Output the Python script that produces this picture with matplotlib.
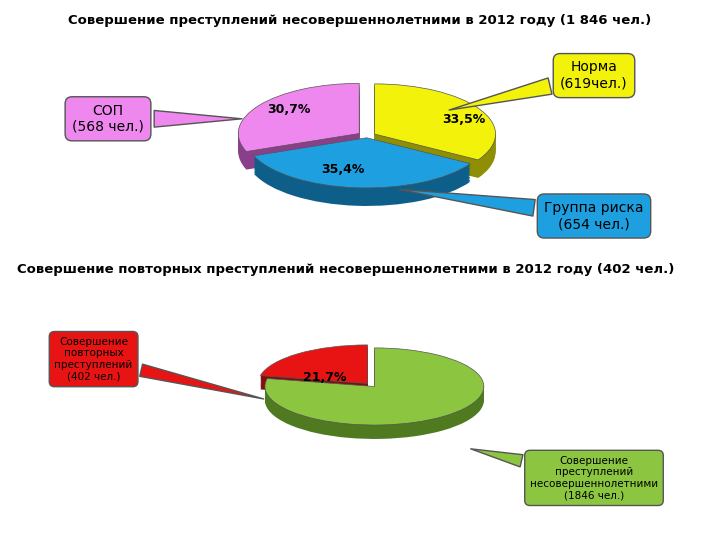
import matplotlib
matplotlib.use('Agg')
import matplotlib.pyplot as plt

top_labels = ['СОП', 'Группа риска', 'Норма']
top_counts = [568, 654, 619]
top_pct = ['30,7%', '35,4%', '33,5%']
top_colors = ['#ee88ee', '#1ea0e0', '#f2f20a']
top_dark = ['#8a3f8a', '#0d5f8a', '#8f8f05']

bot_pct = [21.7, 78.3]
bot_text = ['21,7%', '']
bot_colors = ['#e81414', '#8cc640']
bot_dark = ['#801010', '#4f7a20']

fig = plt.figure(figsize=(7.2, 5.4), dpi=100)
fig.patch.set_facecolor('white')


def pie3d(ax, vals, cols, dark, explode):
    for k in range(12, 0, -1):
        ax.pie(vals, colors=dark, startangle=90, explode=explode,
               center=(0, -0.03 * k), wedgeprops=dict(linewidth=0))
    ax.pie(vals, colors=cols, startangle=90, explode=explode,
           wedgeprops=dict(linewidth=0.5, edgecolor='#555555'))
    ax.set_aspect('auto')
    ax.set_xlim(-1.25, 1.25)
    ax.set_ylim(-1.6, 1.2)
    ax.axis('off')


# top pie
ax1 = fig.add_axes([0.3, 0.6, 0.42, 0.26])
pie3d(ax1, top_counts, top_colors, top_dark, [0.08, 0.04, 0.07])
ax1.text(-0.65, 0.45, top_pct[0], fontsize=9, weight='bold', ha='center')
ax1.text(-0.2, -0.75, top_pct[1], fontsize=9, weight='bold', ha='center')
ax1.text(0.8, 0.25, top_pct[2], fontsize=9, weight='bold', ha='center')

# bottom pie
ax2 = fig.add_axes([0.33, 0.17, 0.38, 0.2])
pie3d(ax2, bot_pct, bot_colors, bot_dark, [0.1, 0.0])
ax2.text(-0.45, 0.15, bot_text[0], fontsize=9, weight='bold', ha='center')

fig.text(0.5, 0.955, 'Совершение преступлений несовершеннолетними в 2012 году (1 846 чел.)',
         ha='center', fontsize=9.5, weight='bold')
fig.text(0.48, 0.495, 'Совершение повторных преступлений несовершеннолетними в 2012 году (402 чел.)',
         ha='center', fontsize=9.5, weight='bold')

def callout(xy, xytext, text, fc, fs=9, weight='normal', color='black'):
    fig.add_artist(plt.Annotation(
        text, xy=xy, xytext=xytext, xycoords='figure fraction',
        textcoords='figure fraction', ha='center', va='center',
        fontsize=fs, weight=weight, color=color,
        bbox=dict(boxstyle='round,pad=0.5', fc=fc, ec='#555555'),
        arrowprops=dict(arrowstyle='wedge,tail_width=1.2', fc=fc, ec='#555555')))

callout((0.34, 0.78), (0.15, 0.78), 'СОП\n(568 чел.)', top_colors[0], fs=10)
callout((0.62, 0.795), (0.825, 0.86), 'Норма\n(619чел.)', top_colors[2], fs=10)
callout((0.55, 0.65), (0.825, 0.6), 'Группа риска\n(654 чел.)', top_colors[1], fs=10)
callout((0.37, 0.26), (0.13, 0.335), 'Совершение\nповторных\nпреступлений\n(402 чел.)',
        bot_colors[0], fs=7.5)
callout((0.65, 0.17), (0.825, 0.115), 'Совершение\nпреступлений\nнесовершеннолетними\n(1846 чел.)',
        bot_colors[1], fs=7.5)

fig.savefig('out.png', dpi=100)
